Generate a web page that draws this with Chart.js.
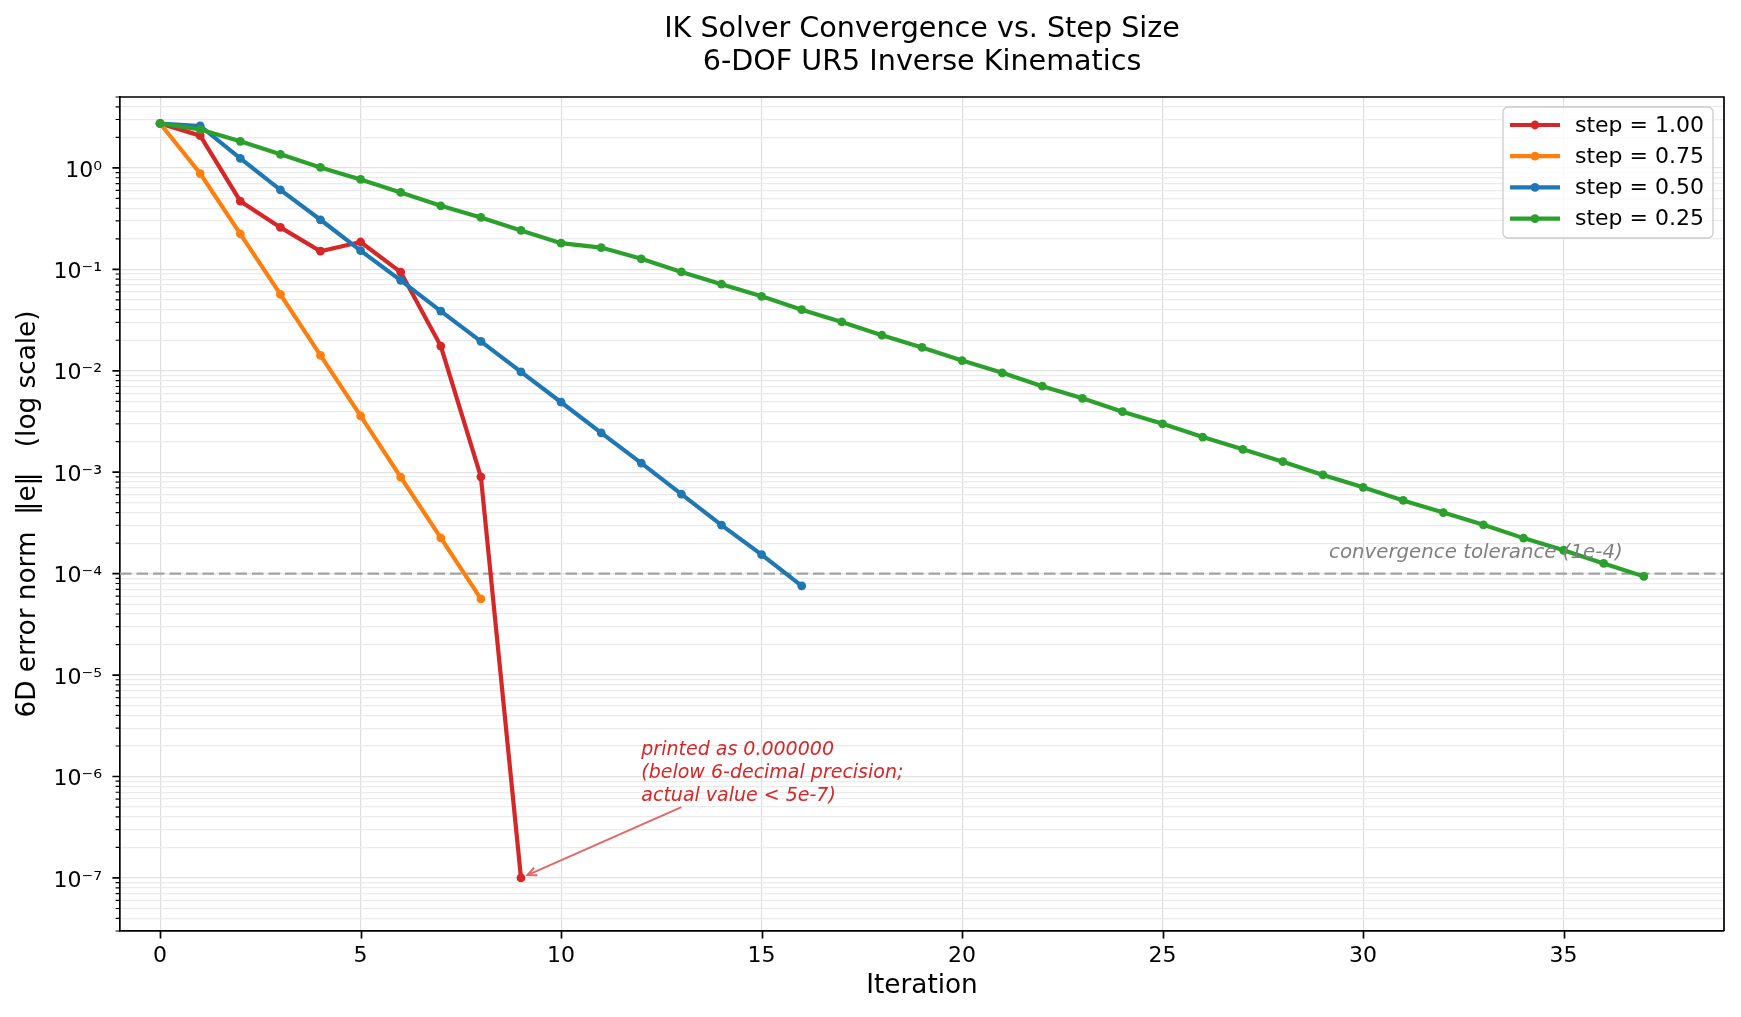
<!DOCTYPE html>
<html>
<head>
<meta charset="utf-8">
<script src="https://cdn.jsdelivr.net/npm/chart.js@4.4.1/dist/chart.umd.min.js"></script>
<style>
    html, body { margin: 0; padding: 0; background: #fff; }
</style>
</head>
<body>
<canvas id="graficaIK" width="1741" height="1017"></canvas>
<script>
    //-----------datos----------------------//
    const stepLabels = ['step = 1.00', 'step = 0.75', 'step = 0.50', 'step = 0.25'];
    const stepColors = ['#d62728', '#ff7f0e', '#1f77b4', '#2ca02c'];

    const errStep100 = [2.74, 2.08, 0.47, 0.259, 0.151, 0.186, 0.094, 0.0175, 9.0e-4, 1.0e-7];
    const errStep075 = [2.74, 0.88, 0.224, 0.0567, 0.0142, 0.00359, 8.95e-4, 2.25e-4, 5.63e-5];
    const errStep050 = [2.74, 2.59, 1.24, 0.608, 0.308, 0.153, 0.0779, 0.0388, 0.0195, 0.00975,
        0.0049, 0.00244, 0.00123, 6.08e-4, 3.01e-4, 1.54e-4, 7.57e-5];
    const errStep025 = [2.74, 2.39, 1.83, 1.36, 1.01, 0.769, 0.573, 0.423, 0.325, 0.242,
        0.181, 0.164, 0.127, 0.0942, 0.0714, 0.0542, 0.040, 0.0303, 0.0224, 0.0170,
        0.0126, 0.00955, 0.00705, 0.00535, 0.00395, 0.0030, 0.00222, 0.00168, 0.00127, 9.4e-4,
        7.1e-4, 5.27e-4, 4.0e-4, 3.03e-4, 2.24e-4, 1.70e-4, 1.26e-4, 9.4e-5];

    const xTicks = [0, 5, 10, 15, 20, 25, 30, 35];
    const xMin = -1, xMax = 39;
    const yMin = 3e-8, yMax = 5;
    const yDecades = [-8, -7, -6, -5, -4, -3, -2, -1, 0];

    const tolerance = 1e-4;
    const tolLabel = 'convergence tolerance (1e-4)';
    const tolLabelPos = [29.15, 1.43e-4];

    const noteLines = ['printed as 0.000000', '(below 6-decimal precision;', 'actual value < 5e-7)'];
    const noteTextPos = [12, 5.8e-7];
    const noteArrowFrom = [13, 5e-7];
    const noteArrowTo = [9, 1e-7];

    const FONT = '"DejaVu Sans", sans-serif';

    const sup = { '0': '⁰', '1': '¹', '2': '²', '3': '³', '4': '⁴', '5': '⁵', '6': '⁶', '7': '⁷', '8': '⁸', '9': '⁹', '-': '⁻' };
    function decadeLabel(k) {
        return '10' + String(k).split('').map(c => sup[c]).join('');
    }

    const series = [errStep100, errStep075, errStep050, errStep025];
    const datasets = series.map((s, i) => ({
        label: stepLabels[i],
        data: s.map((v, j) => ({ x: j, y: v })),
        borderColor: stepColors[i],
        backgroundColor: stepColors[i],
        pointBackgroundColor: stepColors[i],
        borderWidth: 4.2,
        pointRadius: 4.4,
        pointHoverRadius: 4.4,
        pointBorderWidth: 0,
        tension: 0,
        fill: false,
        order: 4 - i
    }));
    // linea de tolerancia
    datasets.push({
        label: 'tol',
        data: [{ x: xMin, y: tolerance }, { x: xMax, y: tolerance }],
        borderColor: '#a3a3a3',
        borderWidth: 2.4,
        borderDash: [11.5, 5],
        pointRadius: 0,
        fill: false,
        order: 10
    });

    function arrowHead(ctx, fx, fy, tx, ty, len, ang) {
        const a = Math.atan2(ty - fy, tx - fx);
        ctx.beginPath();
        ctx.moveTo(tx - len * Math.cos(a - ang), ty - len * Math.sin(a - ang));
        ctx.lineTo(tx, ty);
        ctx.lineTo(tx - len * Math.cos(a + ang), ty - len * Math.sin(a + ang));
        ctx.stroke();
    }

    const decor = {
        id: 'decor',
        afterDraw(chart) {
            const { ctx, chartArea: a, scales: { x, y } } = chart;
            ctx.save();

            // marco superior y derecho
            ctx.strokeStyle = '#000';
            ctx.lineWidth = 1.7;
            ctx.beginPath();
            ctx.moveTo(a.left, a.top);
            ctx.lineTo(a.right, a.top);
            ctx.lineTo(a.right, a.bottom);
            ctx.stroke();

            // ticks mayores
            ctx.beginPath();
            x.ticks.forEach(t => {
                const px = Math.round(x.getPixelForValue(t.value)) + 0.5;
                ctx.moveTo(px, a.bottom);
                ctx.lineTo(px, a.bottom + 7.6);
            });
            y.ticks.filter(t => t.major).forEach(t => {
                const py = y.getPixelForValue(t.value);
                ctx.moveTo(a.left, py);
                ctx.lineTo(a.left - 7.6, py);
            });
            ctx.stroke();
            // ticks menores
            ctx.lineWidth = 1.2;
            ctx.beginPath();
            y.ticks.filter(t => !t.major).forEach(t => {
                const py = y.getPixelForValue(t.value);
                ctx.moveTo(a.left, py);
                ctx.lineTo(a.left - 4.4, py);
            });
            ctx.stroke();

            // titulo
            const cx = (a.left + a.right) / 2;
            ctx.fillStyle = '#000';
            ctx.font = '28.6px ' + FONT;
            ctx.textAlign = 'center';
            ctx.textBaseline = 'middle';
            ctx.fillText('IK Solver Convergence vs. Step Size', cx, 30);
            ctx.fillText('6-DOF UR5 Inverse Kinematics', cx, 63);

            // texto de tolerancia
            ctx.font = 'italic 19.8px ' + FONT;
            ctx.fillStyle = '#808080';
            ctx.textAlign = 'left';
            ctx.textBaseline = 'alphabetic';
            ctx.fillText(tolLabel, x.getPixelForValue(tolLabelPos[0]), y.getPixelForValue(tolLabelPos[1]));

            // anotacion
            const fx = x.getPixelForValue(noteArrowFrom[0]), fy = y.getPixelForValue(noteArrowFrom[1]);
            const px = x.getPixelForValue(noteArrowTo[0]), py = y.getPixelForValue(noteArrowTo[1]);
            const d = Math.hypot(px - fx, py - fy);
            const tx = px - (px - fx) / d * 7, ty = py - (py - fy) / d * 7;
            ctx.strokeStyle = '#e26868';
            ctx.lineWidth = 2;
            ctx.beginPath();
            ctx.moveTo(fx, fy);
            ctx.lineTo(tx, ty);
            ctx.stroke();
            arrowHead(ctx, fx, fy, tx, ty, 10, 0.42);

            ctx.fillStyle = '#d62728';
            ctx.font = 'italic 19px ' + FONT;
            const nx = x.getPixelForValue(noteTextPos[0]);
            const nyLast = y.getPixelForValue(noteTextPos[1]);
            noteLines.forEach((l, i) => {
                ctx.fillText(l, nx, nyLast - (noteLines.length - 1 - i) * 22.8);
            });

            // leyenda
            const lw = 210, lh = 131;
            const lx = a.right - 11 - lw, ly = a.top + 10;
            ctx.beginPath();
            ctx.roundRect(lx, ly, lw, lh, 5);
            ctx.fillStyle = 'rgba(255,255,255,0.8)';
            ctx.fill();
            ctx.strokeStyle = '#cccccc';
            ctx.lineWidth = 1.3;
            ctx.stroke();
            ctx.font = '22px ' + FONT;
            ctx.textBaseline = 'middle';
            stepLabels.forEach((lab, i) => {
                const ry = ly + 18 + i * 31.2;
                ctx.strokeStyle = stepColors[i];
                ctx.lineWidth = 4.2;
                ctx.beginPath();
                ctx.moveTo(lx + 7, ry);
                ctx.lineTo(lx + 57, ry);
                ctx.stroke();
                ctx.fillStyle = stepColors[i];
                ctx.beginPath();
                ctx.arc(lx + 32, ry, 4.4, 0, Math.PI * 2);
                ctx.fill();
                ctx.fillStyle = '#000';
                ctx.fillText(lab, lx + 72, ry + 1);
            });

            ctx.restore();
        }
    };

    const ctx = document.getElementById('graficaIK').getContext('2d');
    const myChart = new Chart(ctx, {
        type: 'line',
        data: { datasets: datasets },
        plugins: [decor],
        options: {
            responsive: false,
            animation: false,
            devicePixelRatio: 1,
            layout: { padding: { top: 97, right: 17, bottom: 0, left: 0 } },
            plugins: {
                legend: { display: false },
                title: { display: false },
                tooltip: { enabled: false }
            },
            scales: {
                x: {
                    type: 'linear',
                    min: xMin,
                    max: xMax,
                    afterBuildTicks: s => { s.ticks = xTicks.map(v => ({ value: v })); },
                    afterFit: s => { s.height = 86; },
                    ticks: {
                        autoSkip: false,
                        maxRotation: 0,
                        padding: 12,
                        color: '#000',
                        font: { family: FONT, size: 22 },
                        callback: v => String(v)
                    },
                    grid: { color: '#dedede', lineWidth: 1.2, drawTicks: false },
                    border: { color: '#000', width: 1.7 },
                    title: {
                        display: true,
                        text: 'Iteration',
                        color: '#000',
                        font: { family: FONT, size: 26.3 },
                        padding: { top: 0, bottom: 15 }
                    }
                },
                y: {
                    type: 'logarithmic',
                    min: yMin,
                    max: yMax,
                    afterBuildTicks: s => {
                        const t = [];
                        yDecades.forEach(k => {
                            for (let m = 1; m <= 9; m++) {
                                const v = m * Math.pow(10, k);
                                if (v >= yMin * 0.999 && v <= yMax * 1.001) t.push({ value: v, major: m === 1, k: k });
                            }
                        });
                        s.ticks = t;
                    },
                    afterFit: s => { s.width = 120; },
                    ticks: {
                        autoSkip: false,
                        padding: 18,
                        labelOffset: 3,
                        color: '#000',
                        font: { family: FONT, size: 22 },
                        callback: (v, i, t) => t[i].major ? decadeLabel(t[i].k) : ''
                    },
                    grid: {
                        color: c => (c.tick && c.tick.major) ? '#e2e2e2' : '#ebebeb',
                        lineWidth: 1.2,
                        drawTicks: false
                    },
                    border: { color: '#000', width: 1.7 },
                    title: {
                        display: true,
                        text: '6D error norm  ‖e‖   (log scale)',
                        color: '#000',
                        font: { family: FONT, size: 26.3 },
                        padding: { top: 12, bottom: 0 }
                    }
                }
            }
        }
    });
</script>
</body>
</html>
